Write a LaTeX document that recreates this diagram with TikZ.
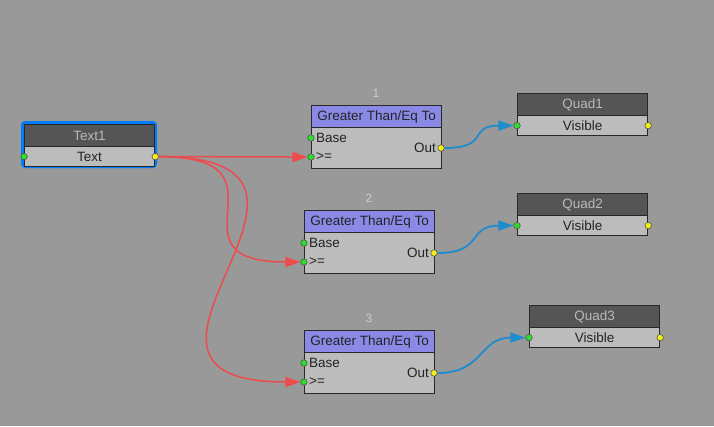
\documentclass[tikz,border=0pt]{standalone}
\usepackage{fontspec}
\setmainfont{Liberation Sans}
\usetikzlibrary{arrows.meta}
\definecolor{bggray}{RGB}{153,153,153}
\definecolor{edge}{RGB}{40,40,40}
\definecolor{darkhead}{RGB}{85,85,85}
\definecolor{headtext}{RGB}{185,185,185}
\definecolor{gthead}{RGB}{138,138,230}
\definecolor{bodygray}{RGB}{188,188,188}
\definecolor{labeltext}{RGB}{35,35,35}
\definecolor{numtext}{RGB}{205,205,205}
\definecolor{selblue}{RGB}{0,122,255}
\definecolor{portgreen}{RGB}{40,225,40}
\definecolor{portyellow}{RGB}{245,240,20}
\definecolor{wirered}{RGB}{236,76,76}
\definecolor{wireblue}{RGB}{30,140,205}

\begin{document}
\begin{tikzpicture}[x=1pt,y=-1pt,
   head/.style={draw=edge,line width=1.2pt,anchor=north west,inner sep=0pt,
      minimum width=130pt,minimum height=22pt,font=\fontsize{13.5}{15}\selectfont},
   body/.style={draw=edge,line width=1.2pt,fill=bodygray,anchor=north west,inner sep=0pt,
      minimum width=130pt,minimum height=20pt,text=labeltext,font=\fontsize{13.5}{15}\selectfont},
   portlabel/.style={inner sep=0pt,text=labeltext,font=\fontsize{13.5}{15}\selectfont},
   numlabel/.style={inner sep=0pt,text=numtext,font=\fontsize{12}{14}\selectfont},
   port/.style={circle,inner sep=0pt,minimum size=6.5pt,draw=edge!80,line width=0.6pt},
   inport/.style={port,fill=portgreen},
   outport/.style={port,fill=portyellow},
   redwire/.style={draw=wirered,line width=1.5pt,-{Triangle[length=15pt,width=10pt]}},
   bluewire/.style={draw=wireblue,line width=1.8pt,-{Triangle[length=15pt,width=10pt]}}]
   \def\w{130} % block width
   \def\hh{22} % header height
   % background
   \fill[bggray] (0,0) rectangle (714,426);
   \useasboundingbox (0,0) rectangle (714,426);
   % Text1 (selected)
   \fill[selblue,rounded corners=4pt] (21,121) rectangle (157,168);
   \node[head,fill=darkhead,text=headtext] (t1) at (24,124) {Text1};
   \node[body,minimum height=20pt] (t1body) at (24,146) {Text};
   \node[inport] (t1in) at (t1body.west) {};
   \node[outport] (t1out) at (t1body.east) {};
   % Greater Than/Eq To blocks
   \foreach \i/\x/\y in {1/311/105,2/304/210,3/304/330} {
      \node[numlabel] (gt\i-num) at (\x+\w/2,\y-12) {\i};
      \node[head,fill=gthead,text=labeltext] (gt\i) at (\x,\y) {Greater Than/Eq To};
      \node[body,minimum height=41pt] (gt\i-body) at (\x,\y+\hh) {};
      \node[inport] (gt\i-base) at (\x,\y+33) {};
      \node[inport] (gt\i-ge) at (\x,\y+52) {};
      \node[outport] (gt\i-out) at (\x+\w,\y+43) {};
      \node[portlabel,anchor=west] (gt\i-basetxt) at (\x+5,\y+33) {Base};
      \node[portlabel,anchor=west] (gt\i-getxt) at (\x+5,\y+52) {>=};
      \node[portlabel,anchor=east] (gt\i-outtxt) at (\x+\w-5,\y+43) {Out};
   }
   % Quad blocks
   \foreach \i/\x/\y in {1/517/93,2/517/193,3/529/305} {
      \node[head,fill=darkhead,text=headtext] (q\i) at (\x,\y) {Quad\i};
      \node[body] (q\i-body) at (\x,\y+\hh) {Visible};
      \node[inport] (q\i-in) at (q\i-body.west) {};
      \node[outport] (q\i-out) at (q\i-body.east) {};
   }
   % wires
   \foreach \i/\d in {1/40,2/145,3/235}
      \draw[redwire] (t1out) .. controls +(\d,0) and +(-\d,0) .. (gt\i-ge);
   \foreach \i in {1,2,3}
      \draw[bluewire] (gt\i-out) .. controls +(50,0) and +(-50,0) .. (q\i-in);
\end{tikzpicture}
\end{document}
